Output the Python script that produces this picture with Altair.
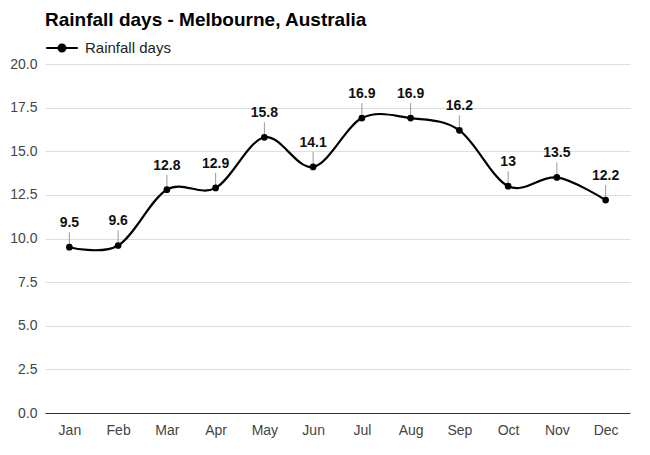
import altair as alt
import pandas as pd

months = ["Jan", "Feb", "Mar", "Apr", "May", "Jun", "Jul", "Aug", "Sep", "Oct", "Nov", "Dec"]
rain_days = [9.5, 9.6, 12.8, 12.9, 15.8, 14.1, 16.9, 16.9, 16.2, 13, 13.5, 12.2]
series_name = "Rainfall days"
y_ticks = [0, 2.5, 5, 7.5, 10, 12.5, 15, 17.5, 20]

df = pd.DataFrame({"month": months, "days": rain_days, "series": [series_name] * len(months)})

FONT = "Liberation Sans"

x_enc = alt.X("month:N", sort=months, scale=alt.Scale(type="point", padding=0.5),
              axis=alt.Axis(title=None, labelAngle=0, ticks=False, domain=True,
                            domainColor="#333333", domainWidth=1, labelPadding=10,
                            labelFontSize=14, labelColor="#444444", labelFont=FONT, grid=False))
y_enc = alt.Y("days:Q", scale=alt.Scale(domain=[0, 20], nice=False),
              axis=alt.Axis(title=None, values=y_ticks, format=".1f", ticks=False, domain=False,
                            gridColor="#dddddd", labelPadding=8, labelFontSize=14,
                            labelColor="#444444", labelFont=FONT))

base = alt.Chart(df)

line = base.mark_line(interpolate="cardinal", strokeWidth=2.2).encode(
    x=x_enc, y=y_enc,
    color=alt.Color("series:N", scale=alt.Scale(range=["#000000"]),
                    legend=alt.Legend(title=None, orient="none", legendX=0, legendY=-33,
                                      symbolType="M-1,0H1M0.22,0A0.22,0.22 0 1,1 -0.22,0A0.22,0.22 0 1,1 0.22,0",
                                      symbolSize=1000, symbolStrokeWidth=2, symbolFillColor="#000000",
                                      labelFontSize=15, labelColor="#222222", labelFont=FONT,
                                      labelOffset=6)),
)

ticks = base.mark_rule(color="#999999", strokeWidth=1, y2Offset=-15).encode(
    x=alt.X("month:N", sort=months), y="days:Q", y2="days:Q")

points = base.mark_circle(size=45, color="#000000", opacity=1).encode(
    x=alt.X("month:N", sort=months), y="days:Q")

labels = base.mark_text(dy=-24, fontSize=14, fontWeight="bold", font=FONT, color="#111111").encode(
    x=alt.X("month:N", sort=months), y="days:Q", text=alt.Text("days:Q", format=".1~f"))

chart = alt.layer(line, ticks, points, labels).properties(
    width=585, height=349,
    padding={"left": 45, "top": 64, "right": 20, "bottom": 42},
    autosize=alt.AutoSizeParams(type="none"),
    title=alt.Title("Rainfall days - Melbourne, Australia", anchor="start", frame="group",
                    offset=1, fontSize=19, fontWeight="bold", font=FONT, color="#000000"),
).configure_view(stroke=None)

chart.save("out.html", embed_options={"renderer": "svg", "actions": False})
